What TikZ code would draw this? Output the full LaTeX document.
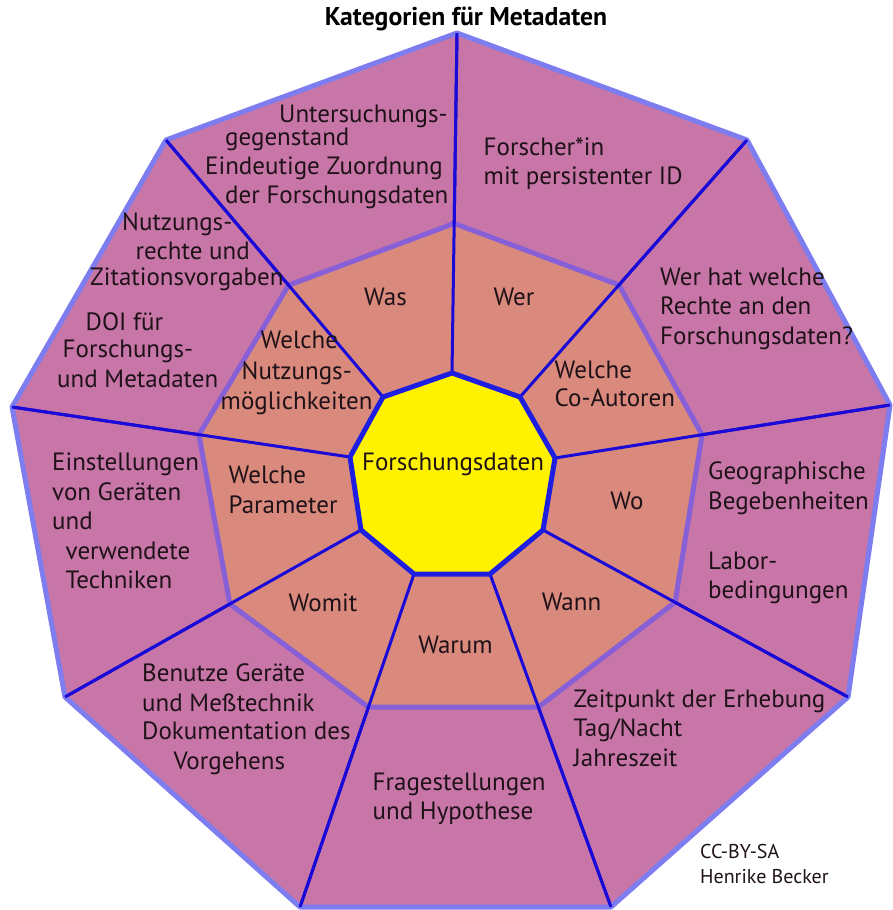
\documentclass[tikz,border=0pt]{standalone}
\usepackage{fontspec}
\setmainfont{PT Sans}
\usetikzlibrary{calc}
\definecolor{outerfill}{RGB}{200,118,168}
\definecolor{midfill}{RGB}{218,137,125}
\definecolor{outerline}{RGB}{125,125,240}
\definecolor{midline}{RGB}{135,95,215}
\definecolor{radline}{RGB}{25,10,215}
\definecolor{innerline}{RGB}{30,30,225}
\definecolor{txt}{RGB}{30,18,24}
\begin{document}
\begin{tikzpicture}[x=1pt,y=-1pt,
  lbl/.style={anchor=base west, inner sep=0pt, text=txt, font=\fontsize{25}{30}\selectfont},
  lblc/.style={anchor=base, inner sep=0pt, text=txt, font=\fontsize{25}{30}\selectfont},
  small/.style={anchor=base west, inner sep=0pt, text=txt, font=\fontsize{20}{24}\selectfont},
  radial/.style={draw=radline, line width=3pt},
]
\useasboundingbox (0,0) rectangle (892,910);
% outer vertices
\coordinate (O1) at (457,33);
\coordinate (O2) at (747,140);
\coordinate (O3) at (890,405);
\coordinate (O4) at (848,697);
\coordinate (O5) at (611,907);
\coordinate (O6) at (300,907);
\coordinate (O7) at (65,697);
\coordinate (O8) at (12,407);
\coordinate (O9) at (166,140);
% inner vertices
\coordinate (I1) at (452,373);
\coordinate (I2) at (520,397);
\coordinate (I3) at (555,458);
\coordinate (I4) at (543,530);
\coordinate (I5) at (490,574);
\coordinate (I6) at (414,574);
\coordinate (I7) at (361,530);
\coordinate (I8) at (350,457);
\coordinate (I9) at (383,397);
% middle vertices
\coordinate (M1) at ($(O1)!0.56!(I1)$);
\coordinate (M2) at ($(O2)!0.564!(I2)$);
\coordinate (M3) at ($(O3)!0.561!(I3)$);
\coordinate (M4) at ($(O4)!0.567!(I4)$);
\coordinate (M5) at ($(O5)!0.6!(I5)$);
\coordinate (M6) at ($(O6)!0.6!(I6)$);
\coordinate (M7) at ($(O7)!0.557!(I7)$);
\coordinate (M8) at ($(O8)!0.553!(I8)$);
\coordinate (M9) at ($(O9)!0.565!(I9)$);
% fills
\fill[outerfill] (O1)--(O2)--(O3)--(O4)--(O5)--(O6)--(O7)--(O8)--(O9)--cycle;
\filldraw[fill=midfill, draw=midline, line width=5pt, line join=round] (M1)--(M2)--(M3)--(M4)--(M5)--(M6)--(M7)--(M8)--(M9)--cycle;
\foreach \k in {1,...,9} { \draw[radial] (O\k) -- (I\k); }
\filldraw[fill=yellow, draw=innerline, line width=5pt, line join=miter] (I1)--(I2)--(I3)--(I4)--(I5)--(I6)--(I7)--(I8)--(I9)--cycle;
\draw[outerline, line width=5pt, line join=round] (O1)--(O2)--(O3)--(O4)--(O5)--(O6)--(O7)--(O8)--(O9)--cycle;
\foreach \k in {1,...,9} { \draw[radial] (O\k) -- (M\k); }
% title
\node[anchor=base, inner sep=0pt, text=black, font=\fontsize{25.7}{30}\selectfont\bfseries] (title) at (466,25) {Kategorien für Metadaten};
% center
\node[lblc] (center) at (453,470) {Forschungsdaten};
% outer texts
\node[lbl] (a1) at (279,122) {Untersuchungs-};
\node[lbl] (a2) at (225,145) {gegenstand};
\node[lbl] (a3) at (205,174.5) {Eindeutige Zuordnung};
\node[lbl] (a4) at (225,203) {der Forschungsdaten};
\node[lbl] (b1) at (483.5,155.3) {Forscher*in};
\node[lbl] (b2) at (483.5,184.8) {mit persistenter ID};
\node[lbl] (c1) at (660,285.5) {Wer hat welche};
\node[lbl] (c2) at (660,314) {Rechte an den};
\node[lbl] (c3) at (660,344) {Forschungsdaten?};
\node[lbl] (d1) at (708,479.5) {Geographische};
\node[lbl] (d2) at (708,509) {Begebenheiten};
\node[lbl] (d3) at (708,569) {Labor-};
\node[lbl] (d4) at (708,598.5) {bedingungen};
\node[lbl] (e1) at (573.5,707) {Zeitpunkt der Erhebung};
\node[lbl] (e2) at (573.5,736.5) {Tag/Nacht};
\node[lbl] (e3) at (573.5,766) {Jahreszeit};
\node[lbl] (f1) at (372.5,790.5) {Fragestellungen};
\node[lbl] (f2) at (372.5,819) {und Hypothese};
\node[lbl] (g1) at (142,681.5) {Benutze Geräte};
\node[lbl] (g2) at (142,711) {und Meßtechnik};
\node[lbl] (g3) at (142,739.5) {Dokumentation des};
\node[lbl] (g4) at (173.5,769) {Vorgehens};
\node[lbl] (h1) at (52,470.5) {Einstellungen};
\node[lbl] (h2) at (52,500.5) {von Geräten};
\node[lbl] (h3) at (52,529) {und};
\node[lbl] (h4) at (65.5,559) {verwendete};
\node[lbl] (h5) at (65.5,588.5) {Techniken};
\node[lbl] (i1) at (122,230.5) {Nutzungs-};
\node[lbl] (i2) at (135.5,259) {rechte und};
\node[lbl] (i3) at (90,285.5) {Zitationsvorgaben};
\node[lbl] (i4) at (85.5,330) {DOI für};
\node[lbl] (i5) at (62.5,357) {Forschungs-};
\node[lbl] (i6) at (57,387) {und Metadaten};
% middle texts
\node[lblc] (m1) at (385.5,305.5) {Was};
\node[lblc] (m2) at (514,305.5) {Wer};
\node[lbl] (m3a) at (554.5,378) {Welche};
\node[lbl] (m3b) at (554.5,406.5) {Co-Autoren};
\node[lblc] (m4) at (627,509) {Wo};
\node[lblc] (m5) at (571.5,610) {Wann};
\node[lblc] (m6) at (455.5,653) {Warum};
\node[lblc] (m7) at (323,611.5) {Womit};
\node[lbl] (m8a) at (228.5,483.5) {Welche};
\node[lbl] (m8b) at (228.5,513.5) {Parameter};
\node[lbl] (m9a) at (260.5,348.5) {Welche};
\node[lbl] (m9b) at (241.5,379.5) {Nutzungs-};
\node[lbl] (m9c) at (220.5,409.5) {möglichkeiten};
% footer
\node[small] (cc) at (700,858) {CC-BY-SA};
\node[small] (author) at (700,883) {Henrike Becker};
\end{tikzpicture}
\end{document}
